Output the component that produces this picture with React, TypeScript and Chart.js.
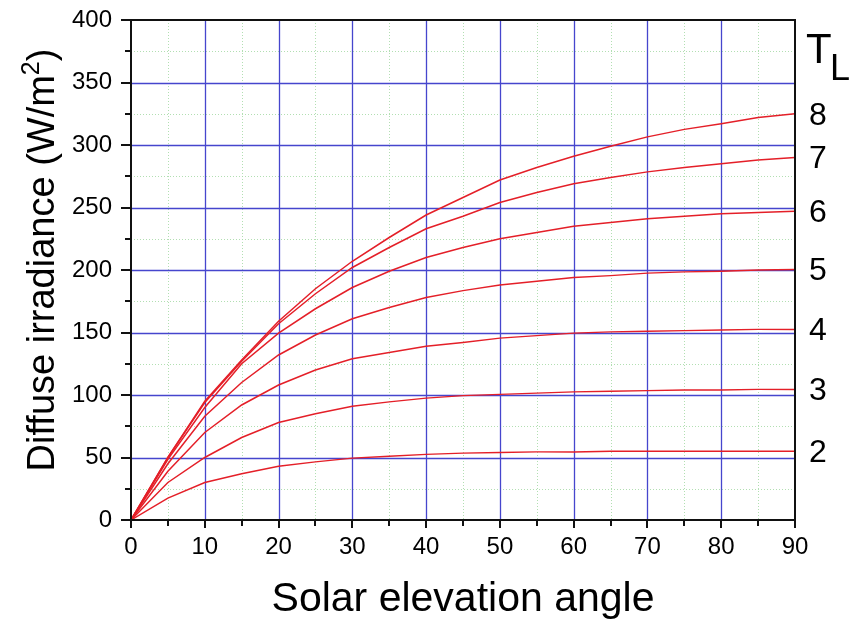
import React, { useEffect, useRef } from "react";
import { Chart, registerables } from "chart.js";

Chart.register(...registerables);

// Solar elevation angle (degrees)
const ANGLES = [0, 5, 10, 15, 20, 25, 30, 35, 40, 45, 50, 55, 60, 65, 70, 75, 80, 85, 90];
// Diffuse irradiance (W/m²) for each Linke turbidity factor T_L
const TL2 = [0, 17.5, 30, 37, 43, 46.5, 49.5, 51, 52.5, 53.5, 54, 54.5, 54.5, 55, 55, 55, 55, 55, 55];
const TL3 = [0, 30, 50, 66, 78, 85, 91, 94.5, 97.5, 99.5, 100.5, 101.5, 102.5, 103, 103.5, 104, 104, 104.5, 104.5];
const TL4 = [0, 39, 70, 92, 108, 120, 129, 134, 139, 142, 145.5, 147.5, 149.5, 150.5, 151, 151.5, 152, 152.5, 152.5];
const TL5 = [0, 45, 83, 110, 132, 148, 161, 170, 178, 183.5, 188, 191, 194, 195.5, 197.5, 198.5, 199, 200, 200.5];
const TL6 = [0, 48.5, 90, 125, 149.5, 169, 186, 199, 210, 218, 225, 230, 235, 238, 241, 243, 245, 246, 247];
const TL7 = [0, 50, 94, 127, 157, 181, 202, 218, 233, 243, 254, 262, 269, 274, 278.5, 282, 285, 288, 290];
const TL8 = [0, 50, 95, 128, 159, 185, 207, 226, 244, 258, 272, 282, 291, 299, 306.5, 312.5, 317, 322, 325];
const SERIES = [TL2, TL3, TL4, TL5, TL6, TL7, TL8];
const SERIES_LABELS = ["2", "3", "4", "5", "6", "7", "8"];

const X_TITLE = "Solar elevation angle";
const Y_TITLE_MAIN = "Diffuse irradiance (W/m";
const Y_TITLE_SUP = "2";
const Y_TITLE_END = ")";

const FONT = '"Liberation Sans", Arial, Helvetica, sans-serif';
const RED = "#e41f28";
const BLUE = "rgb(70,70,205)";
const GREEN = "rgba(170,220,170,0.9)";

const decorPlugin = {
  id: "decor",
  beforeDatasetsDraw(chart: any) {
    const { ctx, chartArea: a, scales } = chart;
    const x = scales.x;
    const y = scales.y;
    ctx.save();
    ctx.lineWidth = 1;
    // minor dotted grid
    ctx.strokeStyle = GREEN;
    ctx.setLineDash([1, 2]);
    for (let v = 5; v < 90; v += 10) {
      const px = Math.round(x.getPixelForValue(v)) + 0.5;
      ctx.beginPath(); ctx.moveTo(px, a.top); ctx.lineTo(px, a.bottom); ctx.stroke();
    }
    for (let v = 25; v < 400; v += 50) {
      const py = Math.round(y.getPixelForValue(v)) + 0.5;
      ctx.beginPath(); ctx.moveTo(a.left, py); ctx.lineTo(a.right, py); ctx.stroke();
    }
    // major grid
    ctx.setLineDash([]);
    ctx.strokeStyle = BLUE;
    ctx.lineWidth = 1.3;
    for (let v = 10; v < 90; v += 10) {
      const px = Math.round(x.getPixelForValue(v)) + 0.5;
      ctx.beginPath(); ctx.moveTo(px, a.top); ctx.lineTo(px, a.bottom); ctx.stroke();
    }
    for (let v = 50; v < 400; v += 50) {
      const py = Math.round(y.getPixelForValue(v)) + 0.5;
      ctx.beginPath(); ctx.moveTo(a.left, py); ctx.lineTo(a.right, py); ctx.stroke();
    }
    ctx.restore();
  },
  afterDatasetsDraw(chart: any) {
    const { ctx, chartArea: a, scales } = chart;
    const x = scales.x;
    const y = scales.y;
    ctx.save();
    ctx.strokeStyle = "#111";
    ctx.lineWidth = 2;
    ctx.strokeRect(a.left, a.top, a.right - a.left, a.bottom - a.top);
    // ticks
    for (let v = 0; v <= 400; v += 25) {
      const py = Math.round(y.getPixelForValue(v));
      const len = v % 50 === 0 ? 10 : 6;
      ctx.beginPath(); ctx.moveTo(a.left - len, py); ctx.lineTo(a.left, py); ctx.stroke();
    }
    for (let v = 0; v <= 90; v += 5) {
      const px = Math.round(x.getPixelForValue(v));
      const len = v % 10 === 0 ? 8 : 6;
      ctx.beginPath(); ctx.moveTo(px, a.bottom); ctx.lineTo(px, a.bottom + len); ctx.stroke();
    }
    ctx.restore();
  },
  afterDraw(chart: any) {
    const { ctx, chartArea: a, scales } = chart;
    const y = scales.y;
    ctx.save();
    ctx.fillStyle = "#000";
    // x title
    ctx.font = `41px ${FONT}`;
    ctx.textAlign = "center";
    ctx.textBaseline = "alphabetic";
    ctx.fillText(X_TITLE, (a.left + a.right) / 2, 611);
    // y title with superscript
    const mainFont = `38px ${FONT}`;
    const supFont = `25px ${FONT}`;
    ctx.font = mainFont;
    const w1 = ctx.measureText(Y_TITLE_MAIN).width;
    const w3 = ctx.measureText(Y_TITLE_END).width;
    ctx.font = supFont;
    const w2 = ctx.measureText(Y_TITLE_SUP).width;
    const total = w1 + w2 + w3;
    ctx.translate(54, 260);
    ctx.rotate(-Math.PI / 2);
    ctx.textAlign = "left";
    let cx = -total / 2;
    ctx.font = mainFont;
    ctx.fillText(Y_TITLE_MAIN, cx, 0);
    cx += w1;
    ctx.font = supFont;
    ctx.fillText(Y_TITLE_SUP, cx, -15);
    cx += w2;
    ctx.font = mainFont;
    ctx.fillText(Y_TITLE_END, cx, 0);
    ctx.setTransform(1, 0, 0, 1, 0, 0);
    // right-hand series labels
    ctx.textAlign = "left";
    ctx.textBaseline = "middle";
    ctx.font = `32px ${FONT}`;
    SERIES.forEach((s, i) => {
      const py = y.getPixelForValue(s[s.length - 1]) + 2;
      ctx.fillText(SERIES_LABELS[i], a.right + 14, py);
    });
    ctx.textBaseline = "alphabetic";
    ctx.font = `42px ${FONT}`;
    ctx.fillText("T", a.right + 11, 63);
    ctx.font = `36px ${FONT}`;
    ctx.fillText("L", a.right + 35, 80);
    ctx.restore();
  },
};

export default function App() {
  const ref = useRef<HTMLCanvasElement | null>(null);
  useEffect(() => {
    document.body.style.margin = "0";
    const canvas = ref.current;
    if (!canvas) return;
    const chart = new Chart(canvas, {
      type: "line",
      data: {
        datasets: SERIES.map((s, i) => ({
          label: "T_L = " + SERIES_LABELS[i],
          data: ANGLES.map((a, j) => ({ x: a, y: s[j] })),
          borderColor: RED,
          borderWidth: 1.5,
          pointRadius: 0,
          tension: 0,
          fill: false,
        })),
      },
      options: {
        animation: false,
        responsive: false,
        devicePixelRatio: 1,
        layout: { padding: { left: 0, top: 20, right: 55, bottom: 0 } },
        plugins: { legend: { display: false }, tooltip: { enabled: false } },
        scales: {
          x: {
            type: "linear",
            min: 0,
            max: 90,
            grid: { display: false, drawTicks: true, tickLength: 13 },
            border: { display: false },
            ticks: {
              stepSize: 10,
              padding: 0,
              color: "#000",
              font: { family: FONT, size: 24 },
              maxRotation: 0,
            },
            afterFit: (s: any) => { s.height = 110; },
          },
          y: {
            type: "linear",
            min: 0,
            max: 400,
            grid: { display: false, drawTicks: true, tickLength: 19 },
            border: { display: false },
            ticks: {
              stepSize: 50,
              padding: 0,
              color: "#000",
              font: { family: FONT, size: 24 },
            },
            afterFit: (s: any) => { s.width = 131; },
          },
        },
      },
      plugins: [decorPlugin],
    });
    return () => chart.destroy();
  }, []);
  return (
    <div style={{ position: "absolute", left: 0, top: 0, width: 850, height: 630, background: "#fff" }}>
      <canvas ref={ref} width={850} height={630} style={{ width: 850, height: 630, display: "block" }} />
    </div>
  );
}
